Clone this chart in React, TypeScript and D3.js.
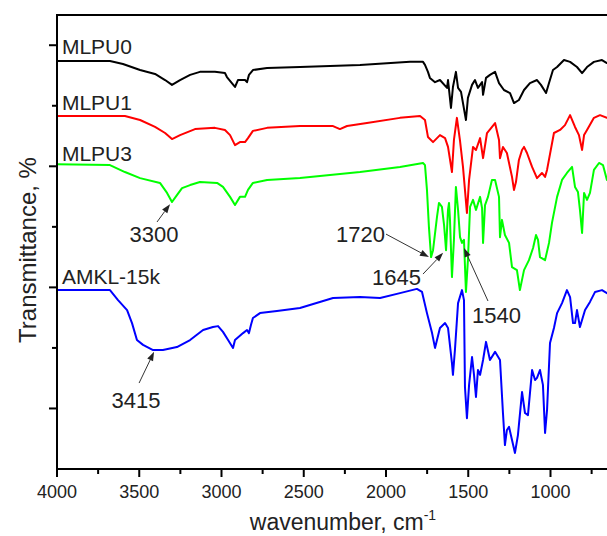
import React from "react";
import * as d3 from "d3";

type Pt = [number, number];

// wavenumber (cm-1), transmittance (offset, a.u.)
const mlpu0: Pt[] = [
  [4000,134.8],[3678,134.8],[3599,133.8],[3495,131.8],[3404,130.5],[3343,128.5],[3301,126.9],[3252,128.5],
  [3191,130.2],[3131,131.2],[3040,131.2],[2979,130.8],[2967,129.5],[2918,126.2],[2900,128.5],[2857,128.5],
  [2845,127.8],[2833,130.2],[2809,131.8],[2723,132.5],[2523,132.8],[2158,133.5],[1854,134.5],[1775,134.5],
  [1763,133.5],[1745,131.2],[1733,129.2],[1702,127.8],[1672,128.5],[1629,125.9],[1623,128.5],[1605,119.3],
  [1593,126.2],[1575,131.2],[1562,125.9],[1544,124.6],[1514,115.3],[1502,122.6],[1477,126.9],[1459,128.5],
  [1441,125.9],[1416,127.8],[1410,123.6],[1392,129.2],[1368,130.2],[1337,131.2],[1313,127.5],[1283,125.2],
  [1246,124.2],[1222,120.9],[1192,121.9],[1161,125.2],[1125,127.5],[1082,128.5],[1058,126.9],[1027,124.2],
  [1009,127.5],[985,131.8],[960,132.8],[918,135.1],[881,134.5],[839,132.8],[808,130.8],[778,132.8],
  [736,134.5],[687,135.1],[657,134.1],[600,134.5]
];

const mlpu1: Pt[] = [
  [4000,116.6],[3587,116.6],[3495,115.3],[3404,113.0],[3343,111.0],[3301,109.0],[3252,110.3],[3161,112.3],
  [3040,112.7],[2979,112.0],[2948,110.3],[2918,107.0],[2888,108.0],[2857,108.0],[2839,109.3],[2809,111.7],
  [2723,112.7],[2523,113.3],[2322,113.3],[2280,112.3],[2237,113.3],[2116,114.3],[1915,116.0],[1793,116.6],
  [1763,115.3],[1745,109.7],[1714,108.0],[1672,110.3],[1641,109.3],[1623,106.4],[1599,98.1],[1587,108.7],
  [1569,116.0],[1550,108.4],[1532,99.8],[1508,84.6],[1495,95.5],[1471,106.4],[1453,105.4],[1428,109.3],
  [1410,102.7],[1386,111.0],[1337,114.3],[1313,108.7],[1307,102.7],[1289,106.4],[1265,104.4],[1234,96.5],
  [1222,92.2],[1210,94.8],[1192,102.1],[1173,105.4],[1161,106.4],[1143,104.4],[1112,99.8],[1082,96.1],
  [1052,97.8],[1033,96.5],[1021,98.8],[979,111.0],[942,112.0],[912,113.6],[881,116.9],[851,113.0],
  [827,110.3],[808,105.4],[796,110.3],[778,112.0],[736,116.0],[699,116.9],[657,116.0],[600,116.3]
];

const mlpu3: Pt[] = [
  [4000,100.7],[3678,100.4],[3587,98.1],[3495,96.1],[3374,94.5],[3331,91.2],[3301,88.2],[3271,90.5],
  [3240,92.8],[3191,93.8],[3131,94.8],[3027,94.5],[2991,93.2],[2948,89.9],[2918,87.2],[2888,89.9],
  [2857,89.9],[2839,92.2],[2809,94.5],[2723,95.5],[2523,96.1],[2158,98.1],[1915,99.8],[1775,101.1],
  [1763,100.4],[1751,92.2],[1739,79.9],[1726,70.0],[1714,72.3],[1690,83.3],[1678,87.9],[1660,86.6],
  [1647,80.6],[1635,72.3],[1623,85.6],[1617,87.9],[1611,82.2],[1599,63.4],[1587,75.7],[1575,93.2],
  [1562,85.6],[1550,76.6],[1538,74.7],[1526,75.7],[1514,58.5],[1502,69.0],[1489,86.6],[1471,88.9],
  [1453,85.6],[1428,89.9],[1416,86.2],[1410,74.7],[1398,87.2],[1380,89.9],[1356,95.5],[1337,95.5],
  [1313,89.9],[1307,76.6],[1295,82.3],[1277,77.3],[1252,74.7],[1234,66.7],[1204,65.7],[1186,59.1],
  [1161,65.7],[1131,69.0],[1106,73.0],[1088,77.3],[1076,75.7],[1064,70.0],[1033,69.0],[1009,74.7],
  [991,81.3],[960,89.9],[930,95.5],[900,97.8],[869,99.8],[851,93.2],[833,91.5],[821,85.6],
  [808,78.0],[796,91.2],[778,88.9],[760,91.2],[736,98.8],[705,101.1],[681,100.4],[657,95.5],[600,95]
];

const amkl: Pt[] = [
  [4000,59.1],[3678,59.1],[3629,55.8],[3574,52.5],[3544,48.2],[3514,42.6],[3477,41.0],[3416,39.3],
  [3356,39.3],[3271,40.3],[3191,42.6],[3112,45.9],[3052,46.9],[3021,47.2],[2991,45.3],[2960,42.6],
  [2930,40.0],[2918,42.6],[2869,44.9],[2845,45.9],[2833,44.9],[2821,47.6],[2809,49.9],[2766,51.5],
  [2663,52.2],[2523,53.2],[2322,56.5],[2158,56.8],[2036,56.5],[1915,58.1],[1812,59.5],[1781,58.5],
  [1751,51.5],[1720,44.9],[1702,40.0],[1690,42.6],[1672,46.6],[1641,48.2],[1623,46.6],[1599,35.0],
  [1593,31.1],[1581,39.3],[1562,54.8],[1538,59.1],[1526,55.8],[1520,27.1],[1508,16.8],[1495,27.8],
  [1477,37.0],[1465,31.1],[1453,23.8],[1441,32.7],[1428,31.1],[1410,36.0],[1392,42.0],[1368,36.0],
  [1337,38.7],[1307,36.0],[1289,18.5],[1277,7.9],[1265,12.9],[1252,13.9],[1234,9.6],[1216,5.3],
  [1198,11.2],[1173,25.4],[1155,18.5],[1137,17.8],[1112,32.7],[1094,29.4],[1082,30.1],[1064,32.7],
  [1046,27.8],[1033,11.9],[1021,19.5],[1003,41.6],[979,46.6],[960,51.5],[930,54.8],[900,59.1],
  [881,56.8],[863,48.2],[851,48.2],[839,52.5],[821,46.9],[790,52.5],[760,55.2],[729,58.5],
  [687,59.1],[657,58.1],[600,58.5]
];

const seriesNames = ["MLPU0", "MLPU1", "MLPU3", "AMKL-15k"];
const seriesData = [mlpu0, mlpu1, mlpu3, amkl];
const seriesColors = ["#000000", "#ff0000", "#00ff00", "#0000ff"];
// label anchor (wavenumber, value)
const seriesLabelAt: Pt[] = [[3970, 137.1], [3970, 118.6], [3970, 101.7], [3970, 61.1]];

const xMajorTicks = [4000, 3500, 3000, 2500, 2000, 1500, 1000];
const xMinorTicks = [3750, 3250, 2750, 2250, 1750, 1250, 750];
const yMajorTicks = [20, 60, 100, 140];
const yMinorTicks = [40, 80, 120];

const annLabels = ["3300", "1720", "1645", "1540", "3415"];
const annTip: Pt[] = [[3313, 87.5], [1739, 70.0], [1653, 71.4], [1526, 73.0], [3410, 38.7]];
const annTail: Pt[] = [[3392, 81.6], [2000, 77.6], [1775, 64.4], [1380, 55.5], [3501, 28.4]];
const annText: Pt[] = [[3410, 75.0], [2006, 75.0], [1787, 60.8], [1477, 48.2], [3520, 20.2]];
const annAnchor = ["middle", "end", "end", "start", "middle"];

const W = 607, H = 536;
const left = 57, top = 15, bottom = 469;
const FONT = "'Liberation Sans', Arial, sans-serif";

export default function App() {
  const x = d3.scaleLinear().domain([4000, 400]).range([left, left + 3600 * 0.1645]);
  const y = d3.scaleLinear().domain([0, 150]).range([bottom, bottom - 150 * 3.027]);
  const line = d3.line<Pt>().x(d => x(d[0])).y(d => y(d[1]));

  const arrows = annLabels.map((lab, i) => {
    const x1 = x(annTail[i][0]), y1 = y(annTail[i][1]);
    const x2 = x(annTip[i][0]), y2 = y(annTip[i][1]);
    const ang = Math.atan2(y2 - y1, x2 - x1);
    const L = 9, Wd = 3.2;
    const bx = x2 - L * Math.cos(ang), by = y2 - L * Math.sin(ang);
    const px = -Math.sin(ang) * Wd, py = Math.cos(ang) * Wd;
    return { lab, x1, y1, x2, y2, bx, by, head: `${x2},${y2} ${bx + px},${by + py} ${bx - px},${by - py}` };
  });

  return (
    <svg width={W} height={H} style={{ position: "absolute", left: 0, top: 0, background: "#fff" }}
      fontFamily={FONT}>
      <rect x={0} y={0} width={W} height={H} fill="#fff" />
      {seriesData.map((d, i) => (
        <path key={i} d={line(d) || ""} fill="none" stroke={seriesColors[i]} strokeWidth={2} strokeLinejoin="round" />
      ))}
      {/* axes */}
      <line x1={left} y1={top} x2={W + 5} y2={top} stroke="#000" strokeWidth={2} />
      <line x1={left} y1={top - 1} x2={left} y2={bottom + 1} stroke="#000" strokeWidth={2} />
      <line x1={left - 1} y1={bottom} x2={W + 5} y2={bottom} stroke="#000" strokeWidth={2} />
      {xMajorTicks.map(t => (
        <g key={"xm" + t}>
          <line x1={x(t)} x2={x(t)} y1={bottom} y2={bottom + 8} stroke="#000" strokeWidth={2} />
          <text x={x(t)} y={498} fontSize={18} textAnchor="middle" fill="#222">{t}</text>
        </g>
      ))}
      {xMinorTicks.map(t => (
        <line key={"xn" + t} x1={x(t)} x2={x(t)} y1={bottom} y2={bottom + 5} stroke="#000" strokeWidth={2} />
      ))}
      {yMajorTicks.map(t => (
        <line key={"ym" + t} x1={left - 8} x2={left} y1={y(t)} y2={y(t)} stroke="#000" strokeWidth={2} />
      ))}
      {yMinorTicks.map(t => (
        <line key={"yn" + t} x1={left - 5} x2={left} y1={y(t)} y2={y(t)} stroke="#000" strokeWidth={2} />
      ))}
      <text x={343} y={530} fontSize={23} textAnchor="middle" fill="#222">
        wavenumber, cm<tspan dy={-10} fontSize={14}>-1</tspan>
      </text>
      <text transform="translate(36,250) rotate(-90)" fontSize={24} textAnchor="middle" fill="#222">
        Transmittance, %
      </text>
      {seriesNames.map((n, i) => (
        <text key={n} x={x(seriesLabelAt[i][0])} y={y(seriesLabelAt[i][1])} fontSize={21} fill="#222">{n}</text>
      ))}
      {arrows.map((a, i) => (
        <g key={a.lab}>
          <line x1={a.x1} y1={a.y1} x2={a.bx} y2={a.by} stroke="#333" strokeWidth={1} />
          <polygon points={a.head} fill="#222" />
          <text x={x(annText[i][0])} y={y(annText[i][1])} fontSize={22} textAnchor={annAnchor[i] as any} fill="#222">{a.lab}</text>
        </g>
      ))}
    </svg>
  );
}
